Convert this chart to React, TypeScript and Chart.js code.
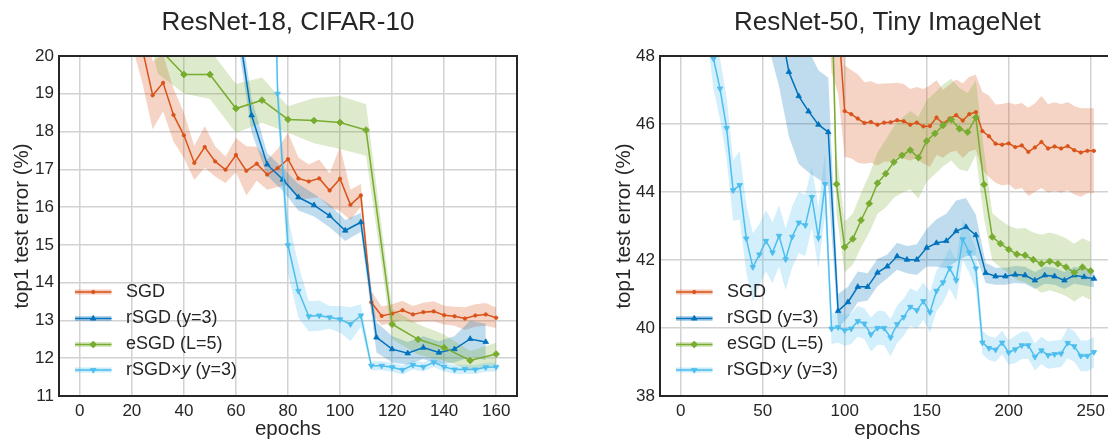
import React, { useEffect, useRef } from 'react';
import { Chart, registerables } from 'chart.js';

Chart.register(...registerables);

const FONT = '"Liberation Sans", Arial, sans-serif';
const TEXT = '#262626';
const FRAME = '#262626';
const GRID = '#d2d2d2';

const SGD_COLOR = '#D95319';
const RSGD_COLOR = '#0072BD';
const ESGD_COLOR = '#77AC30';
const RSGDY_COLOR = '#4DBEEE';

// ---------------- ResNet-18, CIFAR-10 ----------------
const cifarXTicks = [0, 20, 40, 60, 80, 100, 120, 140, 160];
const cifarYTicks = [11, 12, 13, 14, 15, 16, 17, 18, 19, 20];

const cifarEpochsBy4 = [0, 4, 8, 12, 16, 20, 24, 28, 32, 36, 40, 44, 48, 52, 56, 60, 64, 68, 72, 76, 80, 84, 88, 92, 96, 100, 104, 108, 112, 116, 120, 124, 128, 132, 136, 140, 144, 148, 152, 156, 160];
const cifarEpochsBy6 = [0, 6, 12, 18, 24, 30, 36, 42, 48, 54, 60, 66, 72, 78, 84, 90, 96, 102, 108, 114, 120, 126, 132, 138, 144, 150, 156];
const cifarEpochsBy10 = [0, 10, 20, 30, 40, 50, 60, 70, 80, 90, 100, 110, 120, 130, 140, 150, 160];

const cifarSgdError = [45, 32, 27, 24.5, 22.6, 21.3, 20.2, 18.96, 19.29, 18.44, 17.9, 17.17, 17.59, 17.21, 16.99, 17.38, 16.96, 17.15, 16.86, 17.03, 17.27, 16.76, 16.68, 16.76, 16.44, 16.75, 16.06, 16.31, 13.48, 13.12, 13.18, 13.27, 13.16, 13.22, 13.24, 13.14, 13.11, 13.05, 13.13, 13.16, 13.07];
const cifarSgdSpread = [1, 1, 1, 1, 1, 1, 0.9, 0.9, 0.75, 0.7, 0.6, 0.45, 0.55, 0.4, 0.35, 0.45, 0.65, 0.45, 0.4, 0.5, 0.7, 0.55, 0.45, 0.5, 0.45, 0.85, 0.4, 0.3, 0.3, 0.25, 0.25, 0.25, 0.22, 0.25, 0.27, 0.25, 0.25, 0.3, 0.3, 0.3, 0.27];

const cifarRsgdError = [70, 45, 36, 31, 28, 26.5, 25.2, 24.2, 23.2, 22.2, 21.2, 18.43, 17.13, 16.73, 16.26, 16.05, 15.77, 15.38, 15.6, 12.55, 12.24, 12.13, 12.28, 12.15, 12.24, 12.51, 12.43];
const cifarRsgdSpread = [0.5, 0.5, 0.5, 0.5, 0.5, 0.5, 0.5, 0.5, 0.5, 0.5, 0.5, 0.45, 0.3, 0.3, 0.35, 0.3, 0.3, 0.28, 0.25, 0.4, 0.35, 0.3, 0.3, 0.3, 0.35, 0.48, 0.48];

const cifarEsgdError = [45, 30, 23, 20.23, 19.51, 19.51, 18.61, 18.83, 18.32, 18.29, 18.24, 18.04, 12.9, 12.5, 12.28, 11.94, 12.11];
const cifarEsgdSpread = [0.7, 0.7, 0.7, 0.7, 0.5, 0.65, 0.65, 0.6, 0.35, 0.6, 0.7, 0.68, 0.4, 0.4, 0.35, 0.25, 0.3];

const cifarRsgdyError = [88, 82, 76, 71, 66, 62, 58, 55, 52, 49, 47, 45, 43, 41, 39.5, 38, 36, 34, 32.3, 19.0, 14.99, 13.78, 13.11, 13.13, 13.08, 13.03, 12.9, 13.13, 11.8, 11.8, 11.76, 11.69, 11.82, 11.77, 11.89, 11.77, 11.7, 11.71, 11.7, 11.76, 11.77];
const cifarRsgdySpread = [1, 1, 1, 1, 1, 1, 1, 1, 1, 1, 1, 1, 1, 1, 1, 1, 1, 1, 0.6, 0.5, 0.75, 0.7, 0.4, 0.4, 0.3, 0.35, 0.45, 0.3, 0.12, 0.12, 0.12, 0.12, 0.12, 0.12, 0.12, 0.12, 0.12, 0.12, 0.12, 0.12, 0.12];

// ---------------- ResNet-50, Tiny ImageNet ----------------
const tinyXTicks = [0, 50, 100, 150, 200, 250];
const tinyYTicks = [38, 40, 42, 44, 46, 48];

const tinyEpochsBy4 = [0, 4, 8, 12, 16, 20, 24, 28, 32, 36, 40, 44, 48, 52, 56, 60, 64, 68, 72, 76, 80, 84, 88, 92, 96, 100, 104, 108, 112, 116, 120, 124, 128, 132, 136, 140, 144, 148, 152, 156, 160, 164, 168, 172, 176, 180, 184, 188, 192, 196, 200, 204, 208, 212, 216, 220, 224, 228, 232, 236, 240, 244, 248, 252];
const tinyEpochsBy6 = [0, 6, 12, 18, 24, 30, 36, 42, 48, 54, 60, 66, 72, 78, 84, 90, 96, 102, 108, 114, 120, 126, 132, 138, 144, 150, 156, 162, 168, 174, 180, 186, 192, 198, 204, 210, 216, 222, 228, 234, 240, 246, 252];
const tinyEpochsBy5 = [0, 5, 10, 15, 20, 25, 30, 35, 40, 45, 50, 55, 60, 65, 70, 75, 80, 85, 90, 95, 100, 105, 110, 115, 120, 125, 130, 135, 140, 145, 150, 155, 160, 165, 170, 175, 180, 185, 190, 195, 200, 205, 210, 215, 220, 225, 230, 235, 240, 245, 250];

const tinySgdError = [95, 88, 84, 80, 77, 74, 71.5, 69, 67, 65, 63.5, 62, 60.5, 59.5, 58.5, 57.5, 56.5, 55.8, 55, 54.3, 53.7, 53, 52.5, 52, 49.1, 46.38, 46.29, 46.16, 46.03, 46.06, 45.98, 46.04, 46.05, 46.11, 46.08, 45.98, 46.04, 45.93, 45.94, 46.19, 46.01, 46.16, 46.26, 46.1, 46.29, 46.35, 45.79, 45.64, 45.42, 45.39, 45.43, 45.32, 45.37, 45.18, 45.31, 45.47, 45.28, 45.34, 45.28, 45.35, 45.23, 45.16, 45.21, 45.21];
const tinySgdSpread = [1.5, 1.5, 1.5, 1.5, 1.5, 1.5, 1.5, 1.5, 1.5, 1.5, 1.5, 1.5, 1.5, 1.5, 1.5, 1.5, 1.5, 1.5, 1.5, 1.5, 1.5, 1.5, 1.5, 4.5, 2.2, 1.35, 1.3, 1.3, 1.2, 1.2, 1.2, 1.15, 1.15, 1.1, 1.1, 1.05, 1.05, 1.1, 1.2, 1.1, 1.0, 1.0, 1.05, 1.1, 1.1, 1.1, 1.15, 1.2, 1.15, 1.2, 1.2, 1.25, 1.25, 1.3, 1.3, 1.35, 1.3, 1.3, 1.3, 1.3, 1.3, 1.3, 1.25, 1.25];

const tinyRsgdError = [85, 75, 68, 63, 59, 56, 54, 52.5, 51.3, 50.2, 49.1, 47.53, 46.82, 46.37, 45.98, 45.76, 40.5, 40.76, 41.21, 41.21, 41.63, 41.81, 42.11, 42.01, 42.01, 42.36, 42.5, 42.56, 42.85, 42.97, 42.73, 41.62, 41.52, 41.52, 41.57, 41.55, 41.4, 41.55, 41.52, 41.4, 41.55, 41.5, 41.45];
const tinyRsgdSpread = [2, 2, 2, 2, 2, 2, 2, 2, 2, 2, 2, 1.9, 2.0, 1.8, 1.6, 1.6, 0.5, 0.45, 0.45, 0.4, 0.4, 0.35, 0.4, 0.4, 0.45, 0.55, 0.7, 0.8, 0.9, 0.85, 0.6, 0.3, 0.25, 0.25, 0.25, 0.25, 0.25, 0.25, 0.25, 0.25, 0.25, 0.25, 0.25];

const tinyEsgdError = [90, 82, 76, 72, 69, 66.5, 64.5, 62.8, 61.3, 60, 59, 58.2, 57.5, 56.8, 56.2, 55.7, 55.2, 54.7, 54.2, 44.23, 42.38, 42.62, 43.17, 43.66, 44.26, 44.54, 44.88, 45.08, 45.23, 45.01, 45.5, 45.72, 45.96, 46.13, 45.86, 45.76, 46.19, 44.22, 42.68, 42.48, 42.31, 42.17, 42.14, 42.01, 41.89, 41.96, 41.89, 41.79, 41.63, 41.79, 41.68];
const tinyEsgdSpread = [1, 1, 1, 1, 1, 1, 1, 1, 1, 1, 1, 1, 1, 1, 1, 1, 1, 1, 1, 0.9, 0.75, 0.75, 0.8, 0.85, 0.9, 1.0, 1.05, 1.1, 1.15, 1.2, 1.2, 1.2, 1.2, 1.2, 1.2, 1.15, 1.1, 1.0, 0.7, 0.7, 0.7, 0.75, 0.8, 0.8, 0.85, 0.85, 0.85, 0.85, 0.85, 0.85, 0.85];

const tinyRsgdyError = [75, 64, 57, 52.5, 49.6, 47.92, 47.04, 45.88, 44.05, 44.2, 42.63, 41.79, 42.16, 42.56, 42.22, 42.71, 42.02, 42.68, 43.1, 43.02, 43.85, 42.65, 44.23, 39.98, 40.02, 39.93, 39.98, 40.2, 40.13, 39.81, 40.0, 40.0, 39.72, 40.11, 40.32, 40.62, 40.52, 40.79, 40.46, 41.09, 41.34, 41.76, 41.4, 42.61, 42.22, 41.75, 39.57, 39.41, 39.36, 39.57, 39.28, 39.37, 39.49, 39.49, 39.15, 39.34, 39.2, 39.23, 39.25, 39.56, 39.46, 39.18, 39.18, 39.29];
const tinyRsgdySpread = [1, 1, 1, 1, 1, 0.9, 0.9, 0.9, 0.9, 1.0, 1.0, 1.0, 0.9, 0.9, 0.9, 0.9, 0.9, 0.9, 0.9, 0.9, 0.9, 0.9, 0.9, 0.45, 0.45, 0.45, 0.45, 0.45, 0.45, 0.5, 0.5, 0.5, 0.55, 0.55, 0.55, 0.55, 0.55, 0.55, 0.6, 0.6, 0.6, 0.6, 0.6, 0.6, 0.6, 0.6, 0.35, 0.35, 0.35, 0.35, 0.35, 0.4, 0.4, 0.4, 0.4, 0.4, 0.4, 0.4, 0.4, 0.45, 0.45, 0.45, 0.45, 0.45];

// ---------------- helpers ----------------
function rgba(hex: string, a: number) {
  const n = parseInt(hex.slice(1), 16);
  return `rgba(${(n >> 16) & 255},${(n >> 8) & 255},${n & 255},${a})`;
}

type LabelPart = { text: string; italic?: boolean };
type Series = {
  label: LabelPart[];
  xs: number[];
  ys: number[];
  sd: number[];
  color: string;
  pointStyle: string;
  radius: number;
  rotation: number;
};

const seriesStyle = {
  sgd: { color: SGD_COLOR, pointStyle: 'circle', radius: 1.7, rotation: 0 },
  rsgd: { color: RSGD_COLOR, pointStyle: 'triangle', radius: 3.2, rotation: 0 },
  esgd: { color: ESGD_COLOR, pointStyle: 'rectRot', radius: 3.4, rotation: 0 },
  rsgdy: { color: RSGDY_COLOR, pointStyle: 'triangle', radius: 3.2, rotation: 180 },
};

const LBL_SGD: LabelPart[] = [{ text: 'SGD' }];
const LBL_RSGD: LabelPart[] = [{ text: 'rSGD (y=3)' }];
const LBL_ESGD: LabelPart[] = [{ text: 'eSGD (L=5)' }];
const LBL_RSGDY: LabelPart[] = [{ text: 'rSGD×' }, { text: 'y', italic: true }, { text: ' (y=3)' }];

const cifarSeries: Series[] = [
  { label: LBL_SGD, xs: cifarEpochsBy4, ys: cifarSgdError, sd: cifarSgdSpread, ...seriesStyle.sgd },
  { label: LBL_RSGD, xs: cifarEpochsBy6, ys: cifarRsgdError, sd: cifarRsgdSpread, ...seriesStyle.rsgd },
  { label: LBL_ESGD, xs: cifarEpochsBy10, ys: cifarEsgdError, sd: cifarEsgdSpread, ...seriesStyle.esgd },
  { label: LBL_RSGDY, xs: cifarEpochsBy4, ys: cifarRsgdyError, sd: cifarRsgdySpread, ...seriesStyle.rsgdy },
];

const tinySeries: Series[] = [
  { label: LBL_SGD, xs: tinyEpochsBy4, ys: tinySgdError, sd: tinySgdSpread, ...seriesStyle.sgd },
  { label: LBL_RSGD, xs: tinyEpochsBy6, ys: tinyRsgdError, sd: tinyRsgdSpread, ...seriesStyle.rsgd },
  { label: LBL_ESGD, xs: tinyEpochsBy5, ys: tinyEsgdError, sd: tinyEsgdSpread, ...seriesStyle.esgd },
  { label: LBL_RSGDY, xs: tinyEpochsBy4, ys: tinyRsgdyError, sd: tinyRsgdySpread, ...seriesStyle.rsgdy },
];

type PanelCfg = {
  title: string;
  canvasLeft: number;
  canvasWidth: number;
  padRight: number;
  yAxisWidth: number;
  xMin: number;
  xMax: number;
  yMin: number;
  yMax: number;
  xTicks: number[];
  yTicks: number[];
  yLabelX: number;
  legendX0: number;
  series: Series[];
};

const PLOT_TOP = 56;
const PLOT_BOTTOM = 396;
const LEGEND_ROWS = [292, 318.5, 344.5, 370];

const cifarPanel: PanelCfg = {
  title: 'ResNet-18, CIFAR-10',
  canvasLeft: 0,
  canvasWidth: 540,
  padRight: 23,
  yAxisWidth: 59,
  xMin: -8,
  xMax: 168,
  yMin: 11,
  yMax: 20,
  xTicks: cifarXTicks,
  yTicks: cifarYTicks,
  yLabelX: 22,
  legendX0: 75,
  series: cifarSeries,
};

const tinyPanel: PanelCfg = {
  title: 'ResNet-50, Tiny ImageNet',
  canvasLeft: 540,
  canvasWidth: 580,
  padRight: 5.4,
  yAxisWidth: 120,
  xMin: -12.6,
  xMax: 264.6,
  yMin: 38,
  yMax: 48,
  xTicks: tinyXTicks,
  yTicks: tinyYTicks,
  yLabelX: 84,
  legendX0: 676 - 540,
  series: tinySeries,
};

function drawMarker(ctx: CanvasRenderingContext2D, style: string, x: number, y: number, r: number, rotDeg: number) {
  ctx.beginPath();
  if (style === 'circle') {
    ctx.arc(x, y, r, 0, Math.PI * 2);
  } else if (style === 'triangle') {
    let rad = (rotDeg * Math.PI) / 180;
    ctx.moveTo(x + Math.sin(rad) * r, y - Math.cos(rad) * r);
    rad += (2 * Math.PI) / 3;
    ctx.lineTo(x + Math.sin(rad) * r, y - Math.cos(rad) * r);
    rad += (2 * Math.PI) / 3;
    ctx.lineTo(x + Math.sin(rad) * r, y - Math.cos(rad) * r);
  } else {
    ctx.moveTo(x - r, y);
    ctx.lineTo(x, y - r);
    ctx.lineTo(x + r, y);
    ctx.lineTo(x, y + r);
  }
  ctx.closePath();
  ctx.fill();
  ctx.stroke();
}

function buildDatasets(series: Series[]) {
  const bands: any[] = [];
  const lines: any[] = [];
  series.forEach((s, i) => {
    const band = rgba(s.color, 0.25);
    bands.push({
      data: s.xs.map((x, k) => ({ x, y: s.ys[k] + s.sd[k] })),
      borderWidth: 0,
      borderColor: 'rgba(0,0,0,0)',
      pointRadius: 0,
      fill: false,
      order: 20 - 2 * i,
    });
    bands.push({
      data: s.xs.map((x, k) => ({ x, y: s.ys[k] - s.sd[k] })),
      borderWidth: 0,
      borderColor: 'rgba(0,0,0,0)',
      backgroundColor: band,
      pointRadius: 0,
      fill: { target: '-1', above: band, below: band },
      order: 19 - 2 * i,
    });
    lines.push({
      data: s.xs.map((x, k) => ({ x, y: s.ys[k] })),
      borderColor: s.color,
      backgroundColor: s.color,
      borderWidth: 1.5,
      pointStyle: s.pointStyle,
      pointRadius: s.radius,
      pointRotation: s.rotation,
      pointBorderWidth: 0.8,
      pointBorderColor: s.color,
      pointBackgroundColor: s.color,
      fill: false,
      order: 3 - i,
    });
  });
  return [...bands, ...lines];
}

function makeDecor(cfg: PanelCfg) {
  return {
    id: 'decor',
    afterDraw(chart: any) {
      const ctx: CanvasRenderingContext2D = chart.ctx;
      const a = chart.chartArea;
      ctx.save();
      ctx.strokeStyle = FRAME;
      ctx.lineWidth = 2;
      ctx.strokeRect(a.left, a.top, a.right - a.left, a.bottom - a.top);

      const cx = (a.left + a.right) / 2;
      ctx.fillStyle = TEXT;
      ctx.font = `26px ${FONT}`;
      ctx.textAlign = 'center';
      ctx.textBaseline = 'alphabetic';
      ctx.fillText(cfg.title, cx, 29.5);

      ctx.font = `20.5px ${FONT}`;
      ctx.textBaseline = 'middle';
      ctx.fillText('epochs', cx, 429);

      ctx.save();
      ctx.translate(cfg.yLabelX, (a.top + a.bottom) / 2);
      ctx.rotate(-Math.PI / 2);
      ctx.fillText('top1 test error (%)', 0, 0);
      ctx.restore();

      // legend
      const x0 = cfg.legendX0;
      const x1 = x0 + 36.5;
      const tx = x0 + 51;
      cfg.series.forEach((s, i) => {
        const y = LEGEND_ROWS[i];
        ctx.fillStyle = rgba(s.color, 0.3);
        ctx.fillRect(x0, y - 2.5, x1 - x0, 5);
        ctx.strokeStyle = s.color;
        ctx.lineWidth = 1.5;
        ctx.beginPath();
        ctx.moveTo(x0, y);
        ctx.lineTo(x1, y);
        ctx.stroke();
        ctx.fillStyle = s.color;
        ctx.lineWidth = 0.8;
        drawMarker(ctx, s.pointStyle, (x0 + x1) / 2, y, s.radius, s.rotation);
        ctx.fillStyle = TEXT;
        ctx.textAlign = 'left';
        ctx.textBaseline = 'middle';
        let x = tx;
        s.label.forEach((p) => {
          ctx.font = `${p.italic ? 'italic ' : ''}18px ${FONT}`;
          ctx.fillText(p.text, x, y);
          x += ctx.measureText(p.text).width;
        });
      });
      ctx.restore();
    },
  };
}

function Panel({ cfg }: { cfg: PanelCfg }) {
  const ref = useRef<HTMLCanvasElement>(null);
  useEffect(() => {
    const canvas = ref.current;
    if (!canvas) return;
    const chart = new Chart(canvas, {
      type: 'line',
      data: { datasets: buildDatasets(cfg.series) },
      options: {
        animation: false,
        responsive: false,
        maintainAspectRatio: false,
        devicePixelRatio: 1,
        events: [],
        layout: { padding: { left: 0, top: PLOT_TOP, right: cfg.padRight, bottom: 0 } },
        plugins: {
          legend: { display: false },
          title: { display: false },
          tooltip: { enabled: false },
        },
        scales: {
          x: {
            type: 'linear',
            min: cfg.xMin,
            max: cfg.xMax,
            afterBuildTicks: (scale: any) => {
              scale.ticks = cfg.xTicks.map((v) => ({ value: v }));
            },
            afterFit: (scale: any) => {
              scale.height = 440 - PLOT_BOTTOM;
            },
            grid: { color: GRID, lineWidth: 1.5, drawTicks: false },
            border: { display: false },
            ticks: {
              autoSkip: false,
              maxRotation: 0,
              padding: 5,
              color: TEXT,
              font: { family: FONT, size: 17 },
              callback: (v: any) => String(v),
            },
          },
          y: {
            type: 'linear',
            min: cfg.yMin,
            max: cfg.yMax,
            afterBuildTicks: (scale: any) => {
              scale.ticks = cfg.yTicks.map((v) => ({ value: v }));
            },
            afterFit: (scale: any) => {
              scale.width = cfg.yAxisWidth;
            },
            grid: { color: GRID, lineWidth: 1.5, drawTicks: false },
            border: { display: false },
            ticks: {
              autoSkip: false,
              padding: 5,
              color: TEXT,
              font: { family: FONT, size: 17 },
              callback: (v: any) => String(v),
            },
          },
        },
      } as any,
      plugins: [makeDecor(cfg)],
    });
    return () => chart.destroy();
  }, [cfg]);
  return (
    <canvas
      ref={ref}
      width={cfg.canvasWidth}
      height={440}
      style={{ position: 'absolute', left: cfg.canvasLeft, top: 0, width: cfg.canvasWidth, height: 440 }}
    />
  );
}

export default function App() {
  return (
    <div
      style={{
        position: 'absolute',
        left: 0,
        top: 0,
        width: 1108,
        height: 440,
        overflow: 'hidden',
        background: '#ffffff',
      }}
    >
      <Panel cfg={cifarPanel} />
      <Panel cfg={tinyPanel} />
    </div>
  );
}
